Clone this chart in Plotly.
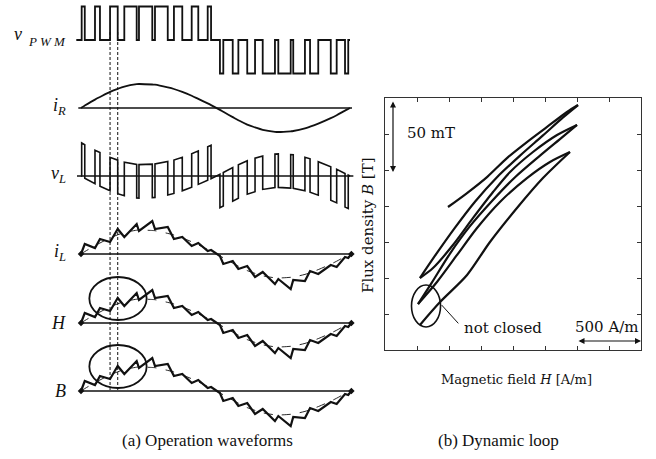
import plotly.graph_objects as go

# ---------------------------------------------------------------
# (a) Operation waveforms over one 20 ms period (time in ms)
# ---------------------------------------------------------------
PWM_POS_ON = [0.05, 1.04, 2.16, 3.22, 4.31, 5.50, 6.91, 8.23, 9.42]
PWM_POS_OFF = [0.28, 1.41, 2.73, 4.14, 5.30, 6.45, 7.53, 8.72, 9.67]
PWM_NEG_ON = [10.33, 11.28, 12.36, 13.51, 14.67, 15.78, 17.03, 18.57, 19.63]
PWM_NEG_OFF = [10.58, 11.70, 12.94, 14.42, 15.59, 16.65, 17.64, 19.01, 19.87]
T_PERIOD = 20.0

V_DC = 33.5      # PWM output level [V]
R_LOAD = 9.2     # load resistance [ohm]

# load current i_R [A] sampled at the switching instants
IR_T = [0.0, 0.05, 0.28, 1.04, 1.41, 2.16, 2.73, 3.22, 4.14, 4.31, 5.30,
        5.50, 6.45, 6.91, 7.53, 8.23, 8.72, 9.42, 9.67, 10.33, 10.58,
        11.28, 11.70, 12.36, 12.94, 13.51, 14.42, 14.67, 15.59, 15.78,
        16.65, 17.03, 17.64, 18.57, 19.01, 19.63, 19.87, 20.0]
IR_A = [0.0, 0.05, 0.24, 0.84, 1.10, 1.61, 1.92, 2.14, 2.38, 2.40, 2.35,
        2.33, 2.06, 1.90, 1.61, 1.22, 0.91, 0.46, 0.29, -0.19, -0.38,
        -0.91, -1.22, -1.66, -1.94, -2.18, -2.38, -2.40, -2.33, -2.30,
        -2.04, -1.87, -1.56, -1.01, -0.72, -0.26, -0.10, 0.0]

# inductor current i_L [A]: ripple vertices at the switching instants
IL_T = [0.0, 0.28, 1.04, 1.41, 2.16, 2.73, 3.22, 4.14, 4.31, 5.30, 5.50,
        6.45, 6.91, 7.53, 8.23, 8.72, 9.42, 9.67, 10.33, 10.58, 11.28,
        11.70, 12.36, 12.94, 13.51, 14.42, 14.67, 15.59, 15.78, 16.65,
        17.03, 17.64, 18.57, 19.01, 19.63, 19.87, 20.1]
IL_A = [0.0, 1.0, 0.6, 1.5, 1.2, 2.5, 1.7, 3.0, 2.3, 3.3, 2.5,
        2.7, 1.5, 1.7, 0.8, 1.1, 0.3, 0.4, -0.2, -1.0, -0.7,
        -1.5, -1.2, -2.3, -1.8, -3.0, -2.5, -3.5, -2.6, -2.7,
        -1.7, -2.0, -1.1, -1.3, -0.3, -0.4, 0.0]

# field strength and flux density follow the inductor current
H_WAVE = IL_A
B_WAVE = IL_A

# ---------------------------------------------------------------
# (b) Dynamic B-H loop: branches of the trajectory
#     H in A/m, B in mT
# ---------------------------------------------------------------
LOOP_BRANCHES = [
    ([273, 430, 641, 820, 1031, 1234, 1445],
     [17.4, 33.3, 52.1, 75.0, 98.6, 119.4, 137.5]),
    ([1445, 1289, 1109, 898, 719, 563, 406, 258],
     [137.5, 130.6, 119.4, 102.8, 84.7, 66.0, 47.2, 31.9]),
    ([258, 367, 508, 664, 836, 1016, 1211, 1367, 1500],
     [31.9, 47.0, 67.0, 86.0, 103.5, 120.0, 135.0, 146.5, 156.3]),
    ([1500, 1344, 1156, 977, 844, 688, 531, 375, 273],
     [156.3, 149.3, 137.5, 123.6, 109.7, 91.7, 72.9, 56.9, 50.0]),
    ([273, 391, 547, 703, 875, 1055, 1234, 1391, 1508],
     [50.0, 65.5, 85.0, 103.0, 120.0, 135.0, 149.0, 161.5, 170.1]),
    ([1508, 1422, 1266, 1109, 953, 797, 641, 492],
     [170.1, 165.3, 154.9, 144.4, 133.3, 120.1, 109.0, 99.3]),
]
B_SCALE_MT = 50     # vertical scale bar
H_SCALE_AM = 500    # horizontal scale bar

# ---------------------------------------------------------------
# layout constants
# ---------------------------------------------------------------
W, HGT = 656, 459
PX_PER_MS = 269 / 20.0
T0_PX = 81
LEFT_W = 360
# channel: (baseline, gain in vertical units per signal unit)
CH = {
    "vpwm": (419, 1.0),
    "iR": (351, 10.0),
    "vL": (283, 1.0),
    "iL": (205, 10.0),
    "H": (136, 10.0),
    "B": (68, 10.0),
}
INK = "#111111"
SERIF = "DejaVu Serif"
TIMES = "Liberation Serif"

fig = go.Figure()


def add_left(x, y, width=1.6, dash=None, shape="linear"):
    fig.add_trace(go.Scatter(
        x=x, y=y, mode="lines", xaxis="x", yaxis="y",
        line=dict(color=INK, width=width, dash=dash, shape=shape),
        hoverinfo="skip", showlegend=False))


def baseline(ch, t0=-0.3, t1=20.2):
    b, _ = CH[ch]
    add_left([t0, t1], [b, b], width=1.3)


# v_PWM
pulses = ([(a, b_, 1) for a, b_ in zip(PWM_POS_ON, PWM_POS_OFF)] +
          [(a, b_, -1) for a, b_ in zip(PWM_NEG_ON, PWM_NEG_OFF)])
b0, g = CH["vpwm"]
px_, py_ = [-0.35], [b0]
for a, b_, s in pulses:
    px_ += [a, a, b_, b_]
    py_ += [b0, b0 + g * s * V_DC, b0 + g * s * V_DC, b0]
px_.append(T_PERIOD)
py_.append(b0)
add_left(px_, py_, width=1.8)

# i_R
baseline("iR", -0.2, 20.15)
b0, g = CH["iR"]
add_left(IR_T, [b0 + g * v for v in IR_A], width=1.8, shape="spline")

# v_L = v_PWM - R * i_R
ir_at = dict(zip(IR_T, IR_A))
baseline("vL", -0.3, 20.25)
b0, g = CH["vL"]
vx, vy = [0.0], [b0]
for a, b_, s in pulses:
    lo_a = -R_LOAD * ir_at[a]
    lo_b = -R_LOAD * ir_at[b_]
    vx += [a, a, b_, b_]
    vy += [b0 + g * lo_a, b0 + g * (s * V_DC + lo_a),
           b0 + g * (s * V_DC + lo_b), b0 + g * lo_b]
vx.append(T_PERIOD)
vy.append(b0)
add_left(vx, vy, width=1.6)

# i_L, H, B with their fundamental (dashed)
for ch, wave in (("iL", IL_A), ("H", H_WAVE), ("B", B_WAVE)):
    baseline(ch, -0.1, 20.1)
    b0, g = CH[ch]
    add_left(IR_T, [b0 + g * v for v in IR_A], width=0.9, dash="dash",
             shape="spline")
    add_left(IL_T, [b0 + g * v for v in wave], width=2.2)
    fig.add_trace(go.Scatter(
        x=[IL_T[0], IL_T[-1]], y=[b0, b0], mode="markers",
        xaxis="x", yaxis="y",
        marker=dict(symbol="diamond", size=5, color=INK),
        hoverinfo="skip", showlegend=False))

# dashed markers of one switching interval
t_mark = [PWM_POS_ON[2], PWM_POS_OFF[2]]
for t in t_mark:
    add_left([t, t], [CH["vpwm"][0] + 8, CH["B"][0]], width=1.0, dash="3px,2px")

# loop
for hs, bs in LOOP_BRANCHES:
    fig.add_trace(go.Scatter(
        x=hs, y=bs, mode="lines", xaxis="x2", yaxis="y2",
        line=dict(color=INK, width=2.2, shape="spline", smoothing=0.8),
        hoverinfo="skip", showlegend=False))

shapes = []
# highlight ellipses on H and B around the marked interval
for ch in ("H", "B"):
    b0, _ = CH[ch]
    shapes.append(dict(type="circle", xref="x", yref="y",
                       x0=0.62, x1=4.88, y0=b0 + 3, y1=b0 + 46,
                       line=dict(color=INK, width=1.8)))
# "not closed" ellipse and leader
shapes.append(dict(type="circle", xref="x2", yref="y2",
                   x0=207, x1=434, y0=16.0, y1=45.1,
                   line=dict(color=INK, width=1.6)))
shapes.append(dict(type="line", xref="x2", yref="y2",
                   x0=443, y0=31.2, x1=573, y1=18.5,
                   line=dict(color=INK, width=1.0)))

ann = []
labels = [
    ("iR", "<i>i</i><sub><i>R</i></sub>", 2),
    ("vL", "<i>v</i><sub><i>L</i></sub>", 2),
    ("iL", "<i>i</i><sub><i>L</i></sub>", 2),
    ("H", "<i>H</i>", 0),
    ("B", "<i>B</i>", 0),
]
for ch, txt, dy in labels:
    ann.append(dict(xref="paper", yref="y", x=68 / W, y=CH[ch][0] + dy,
                    xanchor="right", yanchor="middle", text=txt,
                    showarrow=False,
                    font=dict(family=TIMES, size=18, color=INK)))
# v_PWM label: main symbol plus a widely spaced subscript
ann.append(dict(xref="paper", yref="y", x=24 / W, y=CH["vpwm"][0] + 6,
                xanchor="right", yanchor="middle", text="<i>v</i>",
                showarrow=False, font=dict(family=TIMES, size=18, color=INK)))
ann.append(dict(xref="paper", yref="y", x=26 / W, y=CH["vpwm"][0] - 1,
                xanchor="left", yanchor="middle", text="<i>P W M</i>",
                showarrow=False, font=dict(family=TIMES, size=13, color=INK)))

# scale bars
bar_top = 173.6
ann.append(dict(xref="x2", yref="y2", axref="x2", ayref="y2",
                x=62.5, y=bar_top - B_SCALE_MT, ax=62.5, ay=bar_top,
                text="", showarrow=True, arrowside="end+start",
                arrowhead=2, arrowsize=1, arrowwidth=1.2, arrowcolor=INK,
                standoff=0, startstandoff=0))
ann.append(dict(xref="x2", yref="y2", x=156, y=150.7, xanchor="left",
                yanchor="middle", text="50 mT", showarrow=False,
                font=dict(family=SERIF, size=15, color=INK)))
ann.append(dict(xref="x2", yref="y2", axref="x2", ayref="y2",
                x=2000, y=6.25, ax=2000 - H_SCALE_AM, ay=6.25,
                text="", showarrow=True, arrowside="end+start",
                arrowhead=2, arrowsize=1, arrowwidth=1.2, arrowcolor=INK,
                standoff=0, startstandoff=0))
ann.append(dict(xref="x2", yref="y2", x=1469, y=16, xanchor="left",
                yanchor="middle", text="500 A/m", showarrow=False,
                font=dict(family=SERIF, size=15, color=INK)))
ann.append(dict(xref="x2", yref="y2", x=599, y=15.3, xanchor="left",
                yanchor="middle", text="not closed", showarrow=False,
                font=dict(family=SERIF, size=15, color=INK)))

# axis titles
ann.append(dict(xref="paper", yref="paper", x=368 / W, y=(HGT - 225) / HGT,
                xanchor="center", yanchor="middle", textangle=-90,
                text="Flux density <i>B</i> [T]", showarrow=False,
                font=dict(family=SERIF, size=15, color=INK)))
ann.append(dict(xref="paper", yref="paper", x=516 / W, y=(HGT - 379) / HGT,
                xanchor="center", yanchor="middle",
                text="Magnetic field <i>H</i> [A/m]", showarrow=False,
                font=dict(family=SERIF, size=13, color=INK)))

# captions
ann.append(dict(xref="paper", yref="paper", x=207 / W, y=(HGT - 440) / HGT,
                xanchor="center", yanchor="middle",
                text="(a) Operation waveforms", showarrow=False,
                font=dict(family=TIMES, size=17, color=INK)))
ann.append(dict(xref="paper", yref="paper", x=498 / W, y=(HGT - 440) / HGT,
                xanchor="center", yanchor="middle",
                text="(b) Dynamic loop", showarrow=False,
                font=dict(family=TIMES, size=17, color=INK)))

box_axis = dict(showline=True, linecolor="#333333", linewidth=1,
                mirror="allticks", ticks="inside", ticklen=4, tickwidth=1,
                tickcolor="#333333", showticklabels=False, showgrid=False,
                zeroline=False, fixedrange=True)

fig.update_layout(
    width=W, height=HGT, autosize=False,
    margin=dict(l=0, r=0, t=0, b=0, pad=0),
    paper_bgcolor="white", plot_bgcolor="rgba(0,0,0,0)",
    showlegend=False,
    xaxis=dict(domain=[0, LEFT_W / W],
               range=[-T0_PX / PX_PER_MS, (LEFT_W - T0_PX) / PX_PER_MS],
               visible=False, fixedrange=True),
    yaxis=dict(domain=[0, 1], range=[0, HGT], visible=False, fixedrange=True),
    xaxis2=dict(domain=[385 / W, 641 / W], range=[0, 2000], dtick=250,
                anchor="y2", **box_axis),
    yaxis2=dict(domain=[(HGT - 350) / HGT, (HGT - 98) / HGT], range=[0, 175],
                dtick=25, anchor="x2", **box_axis),
    shapes=shapes,
    annotations=ann,
)

fig.write_html("out.html")
